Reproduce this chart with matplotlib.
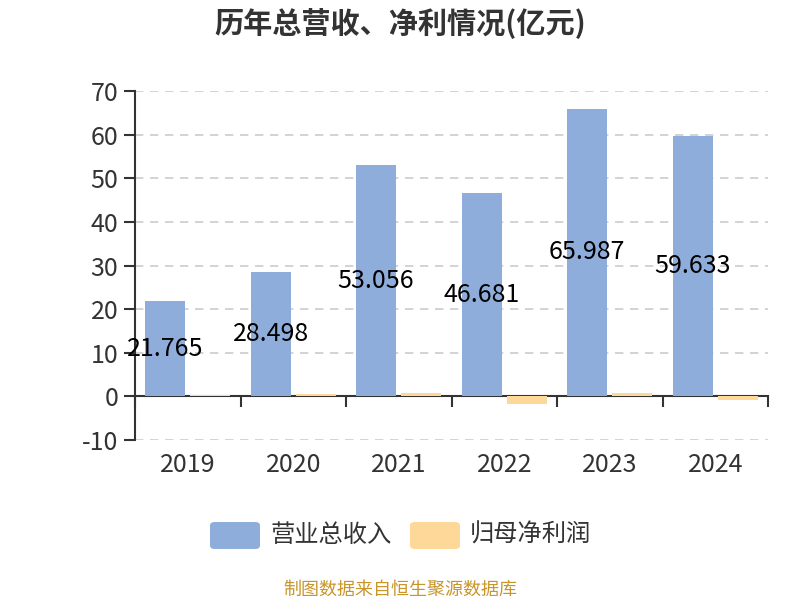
import matplotlib.pyplot as plt
from matplotlib.patches import FancyBboxPatch
import numpy as np

plt.rcParams['font.family'] = ['Noto Sans CJK SC', 'DejaVu Sans']
plt.rcParams['axes.unicode_minus'] = False

years = ['2019', '2020', '2021', '2022', '2023', '2024']
revenue = [21.765, 28.498, 53.056, 46.681, 65.987, 59.633]
profit = [0.3, 0.5, 0.77, -1.68, 0.88, -0.78]
seriesNames = ['营业总收入', '归母净利润']
colors = ['#8eaddb', '#fed898']

fig = plt.figure(figsize=(8, 6), dpi=100)
ax = fig.add_axes([135 / 800, 160 / 600, 633 / 800, 349 / 600])

x = np.arange(len(years))
w = 0.38
off = 0.215
ax.bar(x - off, revenue, width=w, color=colors[0], zorder=3)
ax.bar(x + off, profit, width=w, color=colors[1], zorder=3)

# value labels at the middle of revenue bars
for xi, v in zip(x, revenue):
    ax.text(xi - off, v / 2, f'{v:.3f}', ha='center', va='center',
            fontsize=18, color='black', zorder=4)

ax.set_xlim(-0.5, len(years) - 0.5)
ax.set_ylim(-10, 70)
ax.set_yticks(range(-10, 71, 10))
ax.tick_params(axis='y', labelsize=18, colors='#333333', length=8, width=1.5, pad=4)
ax.yaxis.grid(True, linestyle=(0, (5, 4)), color='#cccccc', linewidth=1.2, zorder=0)

for s in ['top', 'right']:
    ax.spines[s].set_visible(False)
ax.spines['left'].set_color('#333333')
ax.spines['left'].set_linewidth(1.5)
ax.spines['bottom'].set_position(('data', 0))
ax.spines['bottom'].set_color('#333333')
ax.spines['bottom'].set_linewidth(1.5)
ax.set_xticks(np.arange(-0.5, len(years), 1))
ax.set_xticklabels([])
ax.tick_params(axis='x', length=8, width=1.5, colors='#333333', direction='out')

# category labels below the plot area
for xi, yr in zip(x, years):
    ax.text(xi, -0.072, yr, transform=ax.get_xaxis_transform(), ha='center',
            va='center', fontsize=18, color='#333333')

fig.text(0.5, 0.962, '历年总营收、净利情况(亿元)', ha='center', va='center',
         fontsize=21, fontweight='bold', color='#333333')

# legend
for i, (name, c) in enumerate(zip(seriesNames, colors)):
    x0 = 210 + i * 200
    box = FancyBboxPatch((x0 / 800, 1 - 549 / 600), 50 / 800, 27 / 600,
                         boxstyle='round,pad=0,rounding_size=0.006',
                         transform=fig.transFigure, facecolor=c, edgecolor='none')
    fig.patches.append(box)
    fig.text((x0 + 60) / 800, 1 - 535 / 600, name, ha='left', va='center',
             fontsize=17.5, color='#333333')

fig.text(0.5, 1 - 590 / 600, '制图数据来自恒生聚源数据库', ha='center', va='center',
         fontsize=13, color='#c9952b')

fig.savefig('out.png')
